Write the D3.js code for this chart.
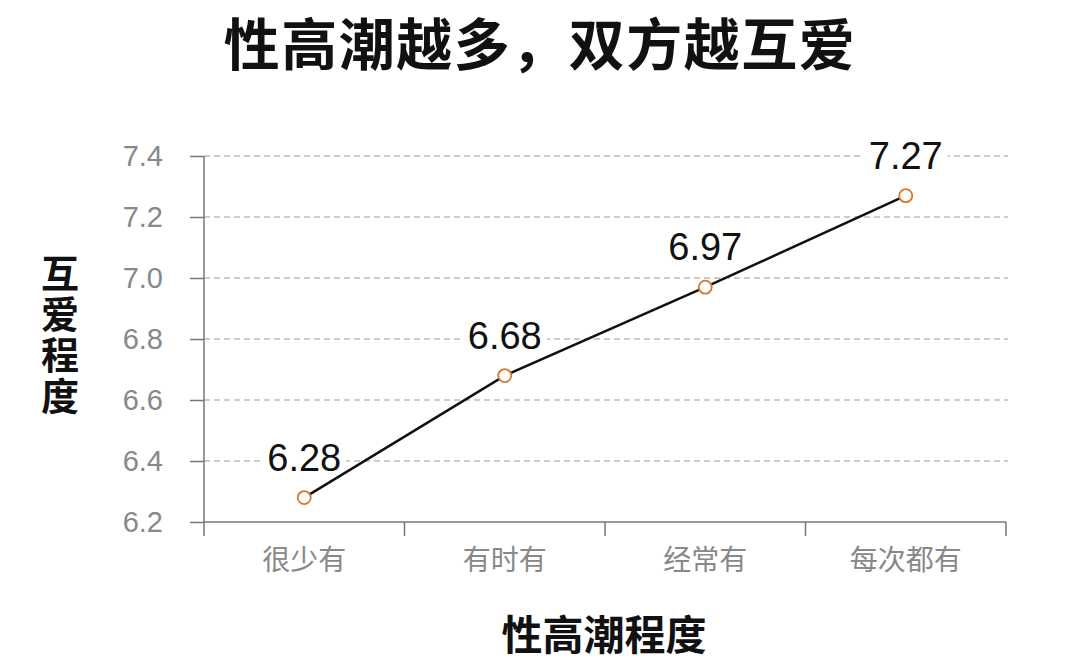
<!DOCTYPE html>
<html><head><meta charset="utf-8">
<script src="https://cdn.jsdelivr.net/npm/d3@7"></script>
<style>body{margin:0;background:#fff}svg{display:block}</style>
</head><body>
<script>
const categories = ["很少有","有时有","经常有","每次都有"];
const values = [6.28, 6.68, 6.97, 7.27];
const valueLabels = ["6.28","6.68","6.97","7.27"];
const yTicks = [6.2, 6.4, 6.6, 6.8, 7.0, 7.2, 7.4];
const titleText = "性高潮越多，双方越互爱";
const yTitle = "互爱程度";
const xTitle = "性高潮程度";

const W = 1080, H = 668;
const font = "'Noto Sans CJK SC','Noto Sans',sans-serif";
const latin = "'Liberation Sans','Noto Sans',sans-serif";
const svg = d3.select("body").append("svg").attr("width", W).attr("height", H);

const x = d3.scaleBand().domain(categories).range([204, 1006]);
const y = d3.scaleLinear().domain([6.2, 7.4]).range([522, 156]);

// title
svg.append("text").attr("x", 540).attr("y", 65).attr("text-anchor", "middle")
  .attr("font-family", font).attr("font-weight", 700).attr("font-size", 56)
  .attr("letter-spacing", 1.5).attr("fill", "#111")
  .text(titleText);

// grid
svg.append("g").selectAll("line").data(yTicks.slice(1)).join("line")
  .attr("x1", 204).attr("x2", 1008).attr("y1", d => y(d)).attr("y2", d => y(d))
  .attr("stroke", "#999").attr("stroke-width", 1).attr("stroke-dasharray", "6,4");

// y axis
const ya = svg.append("g").attr("transform", "translate(204,0)")
  .call(d3.axisLeft(y).tickValues(yTicks).tickFormat(d3.format(".1f")).tickSize(14).tickPadding(27));
ya.select(".domain").attr("stroke", "#777").attr("stroke-width", 1.5).attr("d", "M0,156V522");
ya.selectAll(".tick line").attr("stroke", "#777").attr("stroke-width", 1.5);
ya.selectAll(".tick text").attr("font-family", latin).attr("font-size", 29).attr("fill", "#888");

// x axis
const xa = svg.append("g").attr("transform", "translate(0,522)")
  .call(d3.axisBottom(x).tickSize(0).tickPadding(28));
xa.select(".domain").attr("stroke", "#777").attr("stroke-width", 1.5).attr("d", "M204,0H1006");
xa.selectAll(".tick text").attr("font-family", font).attr("font-size", 28).attr("fill", "#888");
const bounds = categories.map(c => x(c)).concat([x.range()[1]]);
xa.selectAll(".sep").data(bounds).join("line").attr("class","sep")
  .attr("x1", d => d).attr("x2", d => d).attr("y1", 0).attr("y2", 14)
  .attr("stroke", "#777").attr("stroke-width", 1.5);

const cx = (d, i) => x(categories[i]) + x.bandwidth() / 2;

// label backgrounds (hide gridlines behind labels)
const lbl = svg.append("g").selectAll("g").data(values).join("g")
  .attr("transform", (d, i) => `translate(${cx(d, i)},${y(d) - 27})`);
lbl.append("rect").attr("x", -42).attr("y", -30).attr("width", 84).attr("height", 36).attr("fill", "#fff");

// line
svg.append("path").datum(values)
  .attr("d", d3.line().x(cx).y(d => y(d)))
  .attr("fill", "none").attr("stroke", "#111").attr("stroke-width", 2.5);

lbl.append("text").attr("text-anchor", "middle").attr("y", 0)
  .attr("font-family", latin).attr("font-size", 38).attr("fill", "#111")
  .text((d, i) => valueLabels[i]);

// markers
svg.append("g").selectAll("circle").data(values).join("circle")
  .attr("cx", cx).attr("cy", d => y(d)).attr("r", 6.5)
  .attr("fill", "#fff").attr("stroke", "#d9782d").attr("stroke-width", 1.8);

// y title (vertical)
svg.append("text").attr("x", 60).attr("y", 254)
  .style("writing-mode", "vertical-rl").style("text-orientation", "upright")
  .attr("letter-spacing", 3)
  .attr("font-family", font).attr("font-weight", 700).attr("font-size", 38).attr("fill", "#111")
  .text(yTitle);

// x title
svg.append("text").attr("x", 604).attr("y", 650).attr("text-anchor", "middle")
  .attr("font-family", font).attr("font-weight", 700).attr("font-size", 41).attr("fill", "#111")
  .text(xTitle);
</script>
</body></html>
